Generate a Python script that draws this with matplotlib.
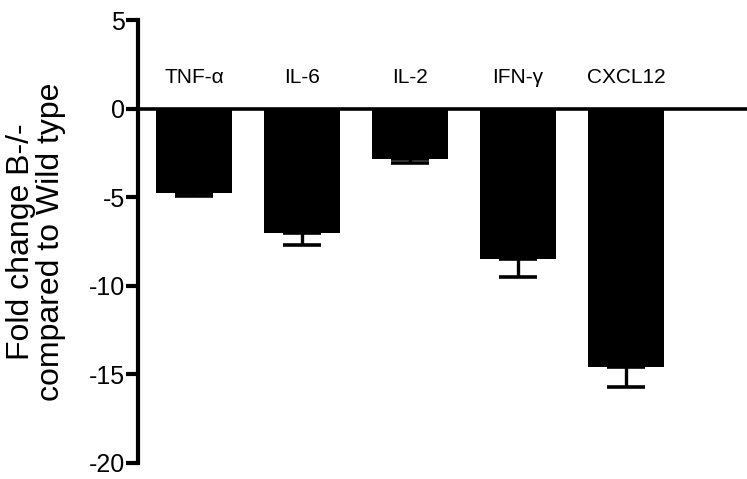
import numpy as np
import matplotlib
matplotlib.use('Agg')
import matplotlib.pyplot as plt

# values
genes = ['TNF-\u03b1', 'IL-6', 'IL-2', 'IFN-\u03b3', 'CXCL12']
fold_change = [-4.75, -7.0, -2.85, -8.5, -14.6]
err_low = [0.2, 0.7, 0.2, 1.0, 1.1]
y_ticks = [5, 0, -5, -10, -15, -20]

plt.rcParams['font.family'] = ['Liberation Sans', 'DejaVu Sans']

fig = plt.figure(figsize=(7.47, 4.79), dpi=100)
ax = fig.add_axes([0.1847, 0.034, 0.8153, 0.924])

x = np.arange(len(genes))
ax.bar(x, fold_change, width=0.71, color='black', zorder=2)
# one-sided error bars (downwards only)
ax.errorbar(x, fold_change, yerr=[err_low, np.zeros(len(err_low))],
            fmt='none', ecolor='black', elinewidth=2.4, capsize=13.5,
            capthick=2.6, zorder=1)
ax.axhline(0, color='black', lw=2.6, zorder=3)

for xi, g in zip(x, genes):
    ax.text(xi, 1.75, g, ha='center', va='center', fontsize=15)

ax.set_xlim(-0.52, 5.12)
ax.set_ylim(-20, 5)
ax.set_yticks(y_ticks)
ax.set_yticklabels([str(t) for t in y_ticks], fontsize=18)
ax.set_xticks([])

for s in ['top', 'right', 'bottom']:
    ax.spines[s].set_visible(False)
ax.spines['left'].set_linewidth(3)
ax.tick_params(axis='y', width=3, length=8.5, pad=1)

ax.set_ylabel('Fold change B-/-\ncompared to Wild type', fontsize=23,
              linespacing=1.0, labelpad=16)

fig.savefig('out.png', dpi=100)
